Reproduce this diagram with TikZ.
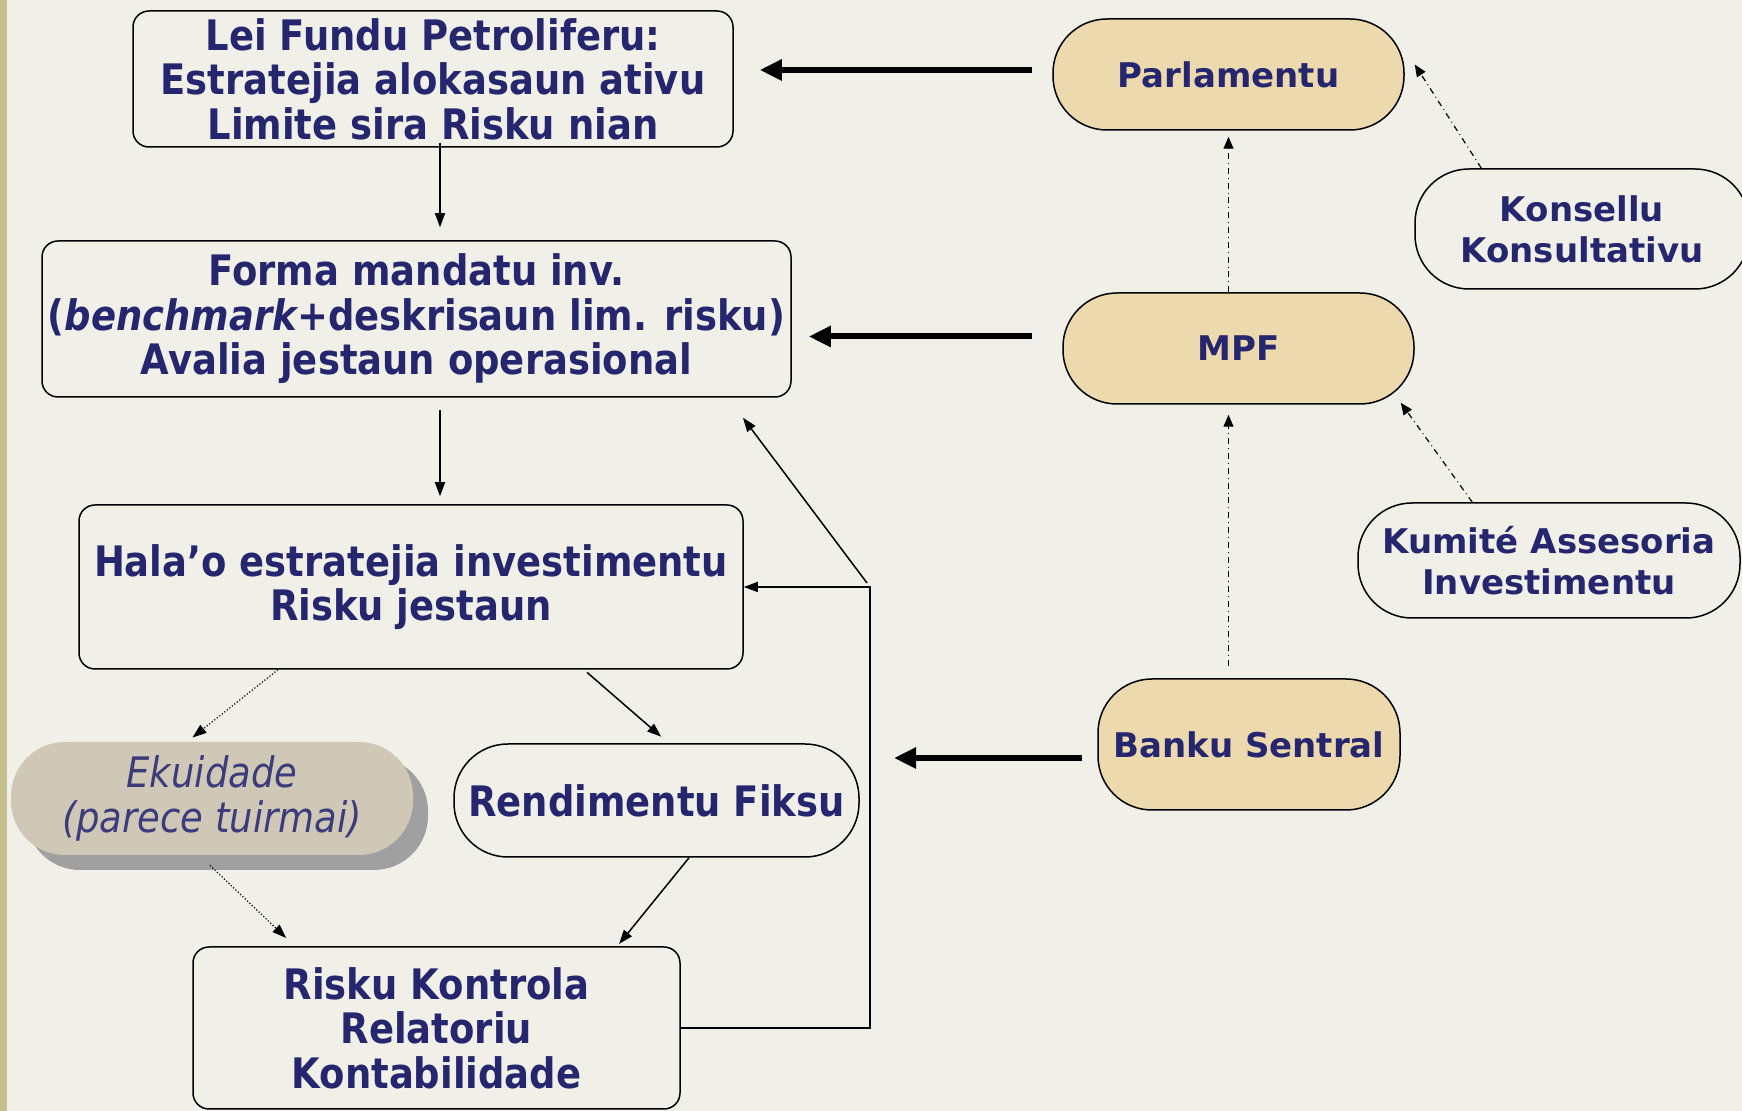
\documentclass[tikz,border=0pt]{standalone}
\usepackage{fontspec}
\usepackage{tikz}
\usetikzlibrary{arrows.meta,calc,shadows}
\setmainfont{DejaVu Sans}
\newfontfamily\narrowfont[FakeStretch=0.88]{DejaVu Sans}
\definecolor{bgcol}{HTML}{F0F0E9}
\definecolor{stripe}{HTML}{C4BF8C}
\definecolor{navy}{HTML}{26266E}
\definecolor{sand}{HTML}{EDD9AE}
\definecolor{ekfill}{HTML}{CFC8B6}
\definecolor{ekshade}{HTML}{A0A0A0}
\begin{document}
\begin{tikzpicture}[x=0.5pt,y=-0.5pt,
  box/.style={draw,rectangle,rounded corners=8pt,line width=0.75pt,inner sep=0pt,fill=bgcol,text=navy,align=center,
    font=\narrowfont\bfseries\fontsize{21}{22.25}\selectfont},
  pill/.style={draw,rectangle,rounded corners=27pt,line width=0.75pt,inner sep=0pt,fill=bgcol,text=navy,align=center,
    font=\bfseries\fontsize{17}{20.5}\selectfont},
  gold/.style={pill,fill=sand},
  arr/.style={-{Triangle[length=7pt,width=5pt]},line width=0.75pt},
  bigarr/.style={-{Triangle[length=11pt,width=10pt]},line width=3pt},
  dd/.style={dashdotted,line width=0.6pt,-{Triangle[length=6pt,width=5pt]}},
  dots/.style={densely dotted,line width=0.6pt,-{Triangle[length=7pt,width=5pt]}}]
\useasboundingbox (0,0) rectangle (1742,1111);
\clip (0,0) rectangle (1742,1111);
\fill [bgcol] (0,0) rectangle (1742,1111);
\fill [stripe] (0,0) rectangle (7,1111);

\node [box,minimum width=300pt,minimum height=68pt] (lei) at (433,79)
  {Lei Fundu Petroliferu:\\Estratejia alokasaun ativu\\Limite sira Risku nian};
\node [box,minimum width=374.5pt,minimum height=78pt] (forma) at (416.5,319)
  {Forma mandatu inv.\\({\itshape benchmark}+deskrisaun lim. risku)\\Avalia jestaun operasional};
\node [box,minimum width=332pt,minimum height=82pt] (halao) at (411,587)
  {Hala’o estratejia investimentu\\Risku jestaun};
\node [box,minimum width=243.5pt,minimum height=81pt] (risku) at (436.5,1028)
  {Risku Kontrola\\Relatoriu\\Kontabilidade};
\node [pill,font=\narrowfont\bfseries\fontsize{21}{22.25}\selectfont,minimum width=202.5pt,minimum height=56.5pt] (rend) at (656.5,800.5)
  {Rendimentu Fiksu};
\node [pill,draw=none,fill=ekfill,text=navy!90,drop shadow={shadow xshift=7.5pt,shadow yshift=-7.5pt,fill=ekshade,opacity=1},
  font=\narrowfont\itshape\fontsize{21}{22.25}\selectfont,minimum width=201pt,minimum height=56.5pt] (ekui) at (212,798.5)
  {Ekuidade\\(parece tuirmai)};
\node [gold,minimum width=175.5pt,minimum height=55.5pt] (parl) at (1228.5,74.5) {Parlamentu};
\node [gold,minimum width=175.5pt,minimum height=55.5pt] (mpf) at (1238.5,348.5) {MPF};
\node [gold,minimum width=151pt,minimum height=65.5pt] (banku) at (1249,744.5) {Banku Sentral};
\node [pill,minimum width=167pt,minimum height=60pt] (kons) at (1582,229) {Konsellu\\Konsultativu};
\node [pill,minimum width=191pt,minimum height=57.5pt] (kum) at (1549,560.5) {Kumité Assesoria\\Investimentu};
\coordinate (loop) at (870,587);

\draw [bigarr,shorten <=10pt,shorten >=13pt] ([yshift=2.25pt]parl.west) -- ([yshift=2.25pt]parl.west -| lei.east);
\draw [bigarr,shorten <=15pt,shorten >=8.5pt] ([yshift=6pt]mpf.west) -- ([yshift=6pt]mpf.west -| forma.east);
\draw [bigarr,shorten <=7.5pt,shorten >=12pt] ([yshift=-6.75pt]banku.west) -- ([yshift=-6.75pt]banku.west -| loop);

\draw [arr,shorten <=-2.5pt,shorten >=6.5pt] ([xshift=3.5pt]lei.south) -- ([xshift=3.5pt]lei.south |- forma.north);
\draw [arr,shorten <=6pt,shorten >=4pt] ([xshift=3.5pt]lei.south |- forma.south) -- ([xshift=3.5pt]lei.south |- halao.north);
\draw [dots,shorten >=3pt] ($(halao.south west)!0.3!(halao.south east)$) -- ($(ekui.north west)!0.44!(ekui.north east)$);
\draw [arr,shorten <=2pt,shorten >=5pt] ($(halao.south west)!0.76!(halao.south east)$) -- ($(rend.north west)!0.53!(rend.north east)$);
\draw [dots,shorten <=7pt,shorten >=6pt] ($(ekui.south west)!0.47!(ekui.south east)$) -- ($(risku.north west)!0.21!(risku.north east)$);
\draw [arr,shorten >=1.5pt] ($(rend.south west)!0.58!(rend.south east)$) -- ($(risku.north west)!0.87!(risku.north east)$);
\draw [arr] (risku.east) -| (loop) -- (halao.east);
\draw [arr,shorten <=2.5pt,shorten >=12.5pt] (loop) -- ($(forma.south west)!0.915!(forma.south east)$);

\draw [dd,shorten >=3pt] (parl.south |- mpf.north) -- (parl.south);
\draw [dd,shorten <=6pt,shorten >=5pt] (parl.south |- banku.north) -- (parl.south |- mpf.south);
\draw [dd] ($(kons.north west)!0.2!(kons.north east)$) -- ([xshift=5pt,yshift=5pt]parl.east);
\draw [dd] ($(kum.north west)!0.3!(kum.north east)$) -- ([xshift=-7pt,yshift=1pt]mpf.south east);
\end{tikzpicture}
\end{document}
